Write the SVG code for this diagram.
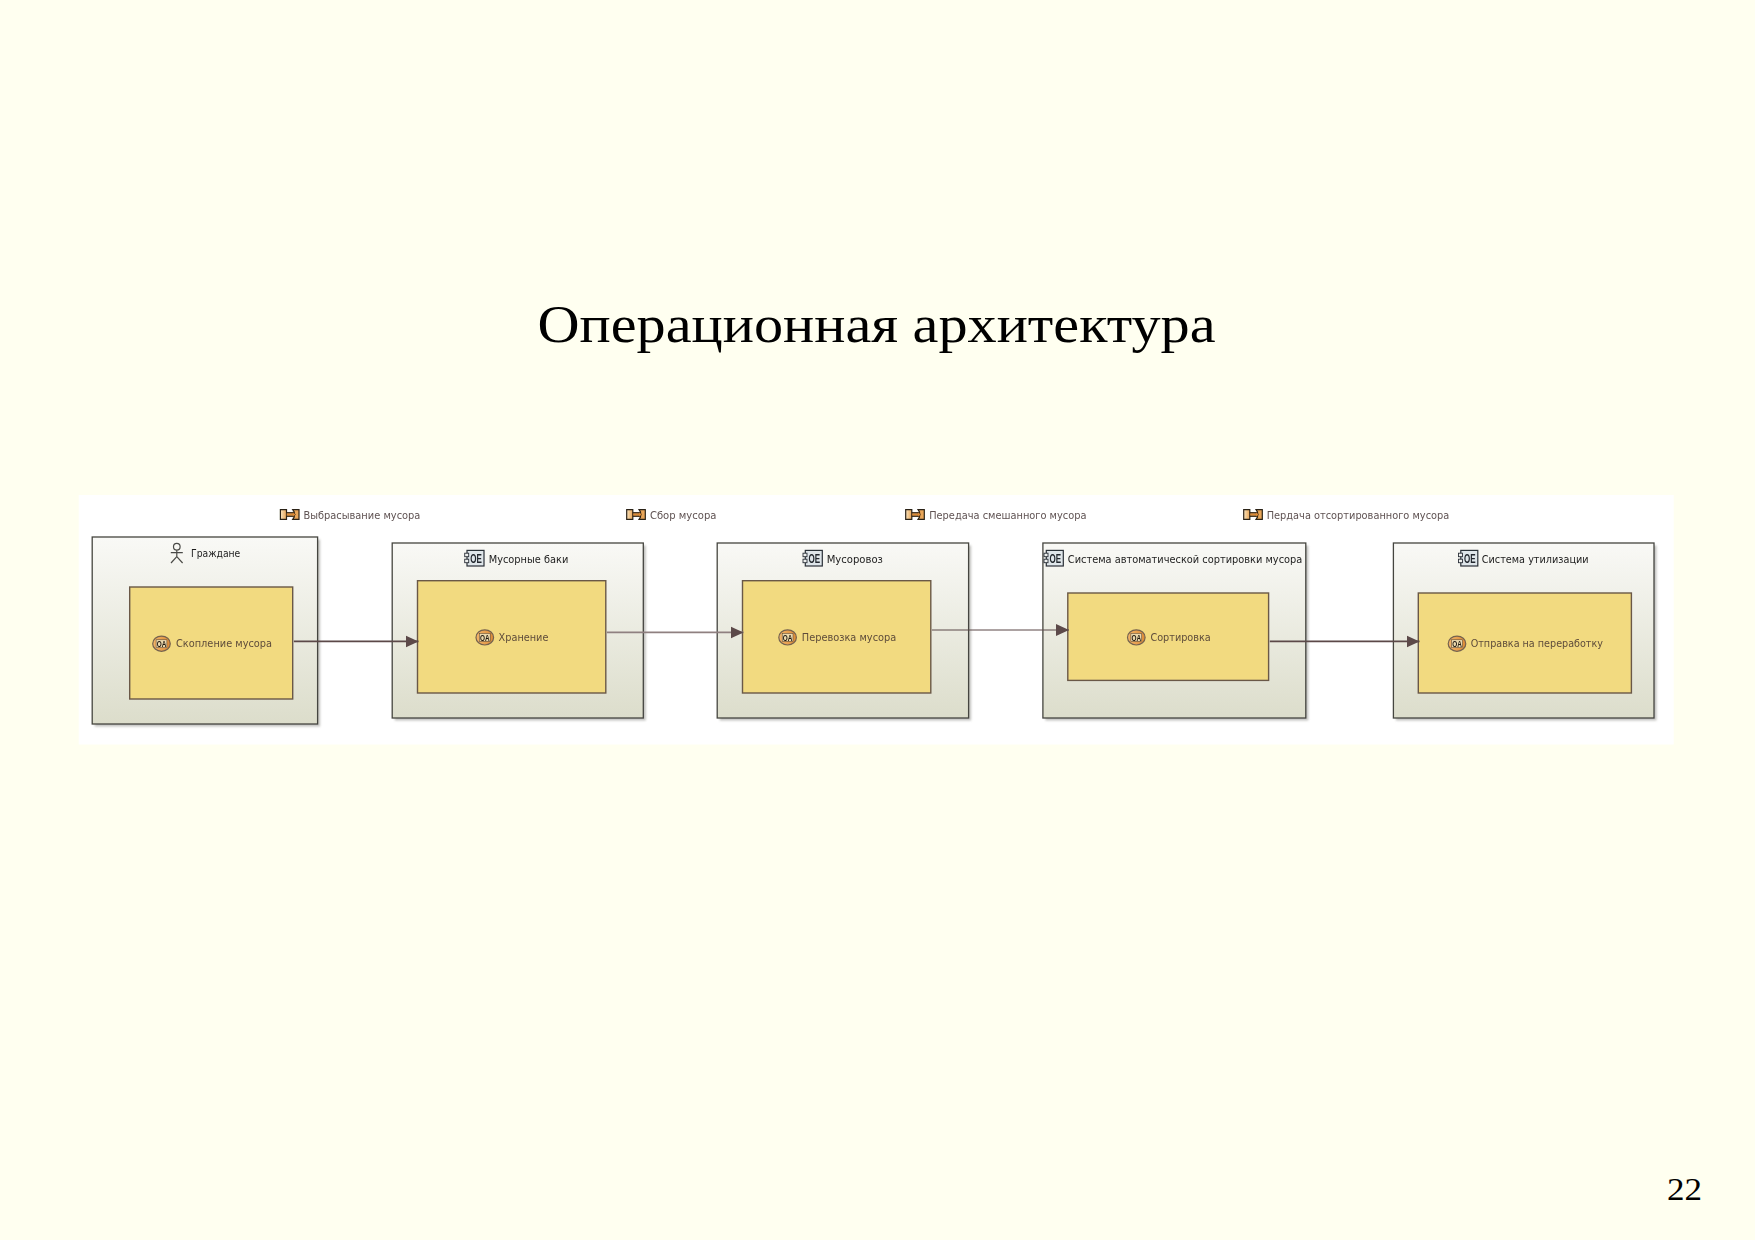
<svg xmlns="http://www.w3.org/2000/svg" width="1755" height="1240" viewBox="0 0 1755 1240">
<style>
.ttl{font-family:"Liberation Serif",serif;fill:#000}
.t{font-family:"DejaVu Sans","Liberation Sans",sans-serif;font-size:9.6px}
.leg{fill:#5f5252}
.bt{fill:#1c1c1c}
.in{fill:#5e4c3a}
.box{fill:url(#g);stroke:#45453f;stroke-width:1.3}
.sh{fill:#8f8f8a;opacity:.55;filter:url(#s)}
.inner{fill:#f2da80;stroke:#6a5846;stroke-width:1.4}
.c{fill:none;stroke:#5b4848}
.ic{font-family:"Liberation Sans",sans-serif;font-weight:700}
</style>
<defs>
<linearGradient id="g" x1="0" y1="0" x2="0" y2="1"><stop offset="0" stop-color="#f9f9f6"/><stop offset="1" stop-color="#dcddcb"/></linearGradient>
<linearGradient id="o" x1="0" y1="0" x2="1" y2="0"><stop offset="0" stop-color="#f2b56a"/><stop offset="1" stop-color="#dd8a35"/></linearGradient>
<linearGradient id="l" x1="0" y1="0" x2="1" y2="0"><stop offset="0" stop-color="#f9e3bd"/><stop offset="1" stop-color="#e9a658"/></linearGradient>
<filter id="s" x="-5%" y="-5%" width="110%" height="110%"><feGaussianBlur stdDeviation="1.2"/></filter>
<filter id="b" x="0" y="0" width="1755" height="1240" filterUnits="userSpaceOnUse" primitiveUnits="userSpaceOnUse"><feGaussianBlur stdDeviation="0.35"/></filter>
<marker id="a" markerUnits="userSpaceOnUse" markerWidth="14" markerHeight="14" refX="13" refY="6.5" orient="auto"><path d="M0 .5L13 6.5L0 12.5z" fill="#5b4848"/></marker>
<g id="legicon">
<rect x="6" y="3.5" width="9" height="4" fill="#f0dcae" stroke="#3a2a18" stroke-width=".9"/>
<path d="M.7 .7H6.8V10.3H.7z" fill="url(#l)" stroke="#2b2318" stroke-width="1.2"/>
<path d="M13 .7H19.3V10.3H13L14.5 8V3z" fill="#e9a658" stroke="#2b2318" stroke-width="1.2"/>
<path d="M6.8 4.2H13V3L16 5.5L13 8V6.8H6.8z" fill="#dd8a35" stroke="#3a2a18" stroke-width=".5"/>
</g>
<g id="oa">
<ellipse rx="8.8" ry="7.6" fill="url(#o)" stroke="#74624f" stroke-width="1.2"/>
<rect x="-5.4" y="-3.9" width="10.8" height="7.8" fill="#ecd9ad" stroke="#4a3a2a" stroke-width=".5"/>
<text class="ic" x="-4.8" y="3.1" font-size="8.6" textLength="9.6" lengthAdjust="spacingAndGlyphs" fill="#1f1810">OA</text>
</g>
<g id="oe">
<rect x="2.8" y=".7" width="17" height="15.6" fill="#dfe6ea" stroke="#2a3038" stroke-width="1.2"/>
<rect x=".5" y="3.5" width="4" height="3.5" fill="#eef0ee" stroke="#2a3038" stroke-width=".9"/>
<rect x=".5" y="9.5" width="4" height="3.5" fill="#eef0ee" stroke="#2a3038" stroke-width=".9"/>
<text class="ic" x="6" y="13.2" font-size="13" textLength="11.6" lengthAdjust="spacingAndGlyphs" fill="#23282e">OE</text>
</g>
</defs>
<rect width="1755" height="1240" fill="#fffff0"/>
<text id="title" class="ttl" x="537.5" y="341.7" font-size="52" textLength="678" lengthAdjust="spacingAndGlyphs">Операционная архитектура</text>
<text id="page" class="ttl" x="1667" y="1200" font-size="32" textLength="35" lengthAdjust="spacingAndGlyphs">22</text>
<rect id="panel" x="78.7" y="495" width="1595" height="249.5" fill="#fff"/>
<g filter="url(#b)"><g transform="translate(0 .7)">
<g id="legend1"><use href="#legicon" x="279.7" y="508.3"/><text class="t leg" x="303.4" y="518" textLength="117" lengthAdjust="spacingAndGlyphs">Выбрасывание мусора</text></g>
<g id="legend2"><use href="#legicon" x="626" y="508.3"/><text class="t leg" x="649.9" y="518" textLength="66.5" lengthAdjust="spacingAndGlyphs">Сбор мусора</text></g>
<g id="legend3"><use href="#legicon" x="905" y="508.3"/><text class="t leg" x="929.2" y="518" textLength="157.3" lengthAdjust="spacingAndGlyphs">Передача смешанного мусора</text></g>
<g id="legend4"><use href="#legicon" x="1243" y="508.3"/><text class="t leg" x="1266.7" y="518" textLength="182.6" lengthAdjust="spacingAndGlyphs">Пердача отсортированного мусора</text></g>

<g id="citizens">
<rect class="sh" x="94.7" y="538.8" width="225.4" height="187"/>
<rect class="box" x="92.2" y="536.3" width="225.4" height="187"/>
<g fill="none" stroke="#4a4a46" stroke-width="1.2"><circle cx="176.8" cy="546" r="3.3"/><path d="M176.8 549.3V556M170.8 552H182.8M176.8 556L171 562.3M176.8 556L182.6 562.3"/></g>
<text class="t bt" x="191" y="556" textLength="49.3" lengthAdjust="spacingAndGlyphs">Граждане</text>
<rect class="inner" x="129.7" y="586.3" width="163" height="112"/>
<use href="#oa" x="161.5" y="643"/>
<text class="t in" x="176" y="646.7" textLength="96" lengthAdjust="spacingAndGlyphs">Скопление мусора</text>
</g>

<g id="bins">
<rect class="sh" x="394.7" y="544.8" width="251.1" height="175"/>
<rect class="box" x="392.2" y="542.3" width="251.1" height="175"/>
<use href="#oe" x="464.2" y="549"/>
<text class="t bt" x="488.7" y="562" textLength="79.6" lengthAdjust="spacingAndGlyphs">Мусорные баки</text>
<rect class="inner" x="417.5" y="580" width="188.3" height="112.3"/>
<use href="#oa" x="484.8" y="636.7"/>
<text class="t in" x="498.6" y="640.3" textLength="49.8" lengthAdjust="spacingAndGlyphs">Хранение</text>
</g>

<g id="truck">
<rect class="sh" x="719.7" y="544.8" width="251.4" height="175"/>
<rect class="box" x="717.2" y="542.3" width="251.4" height="175"/>
<use href="#oe" x="802.5" y="549"/>
<text class="t bt" x="826.7" y="562" textLength="56.2" lengthAdjust="spacingAndGlyphs">Мусоровоз</text>
<rect class="inner" x="742.5" y="580" width="188.3" height="112.3"/>
<use href="#oa" x="787.6" y="636.7"/>
<text class="t in" x="801.8" y="640.3" textLength="94.5" lengthAdjust="spacingAndGlyphs">Перевозка мусора</text>
</g>

<g id="sorter">
<rect class="sh" x="1045.4" y="544.8" width="262.9" height="175"/>
<rect class="box" x="1042.9" y="542.3" width="262.9" height="175"/>
<use href="#oe" x="1043.5" y="549"/>
<text class="t bt" x="1067.8" y="562" textLength="234.5" lengthAdjust="spacingAndGlyphs">Система автоматической сортировки мусора</text>
<rect class="inner" x="1067.8" y="592.3" width="200.8" height="87.4"/>
<use href="#oa" x="1136.3" y="636.7"/>
<text class="t in" x="1150.4" y="640.3" textLength="60.4" lengthAdjust="spacingAndGlyphs">Сортировка</text>
</g>

<g id="recycling">
<rect class="sh" x="1395.9" y="544.8" width="260.6" height="175"/>
<rect class="box" x="1393.4" y="542.3" width="260.6" height="175"/>
<use href="#oe" x="1458" y="549"/>
<text class="t bt" x="1481.8" y="562" textLength="106.8" lengthAdjust="spacingAndGlyphs">Система утилизации</text>
<rect class="inner" x="1418.3" y="592.3" width="213.1" height="100"/>
<use href="#oa" x="1457" y="643"/>
<text class="t in" x="1470.7" y="646.7" textLength="132.3" lengthAdjust="spacingAndGlyphs">Отправка на переработку</text>
</g>

<g id="connectors">
<path class="c" d="M293.9 640.7H418.5" stroke-width="1.6" marker-end="url(#a)"/>
<path d="M606.9 631.7H743.5" fill="none" stroke="#8f8080" stroke-width="1.6" marker-end="url(#a)"/>
<path class="c" d="M931.9 629.3H1069" stroke-width="1" marker-end="url(#a)"/>
<path class="c" d="M1269.8 640.7H1419.5" stroke-width="1.6" marker-end="url(#a)"/>
</g>
</g></g>
</svg>
